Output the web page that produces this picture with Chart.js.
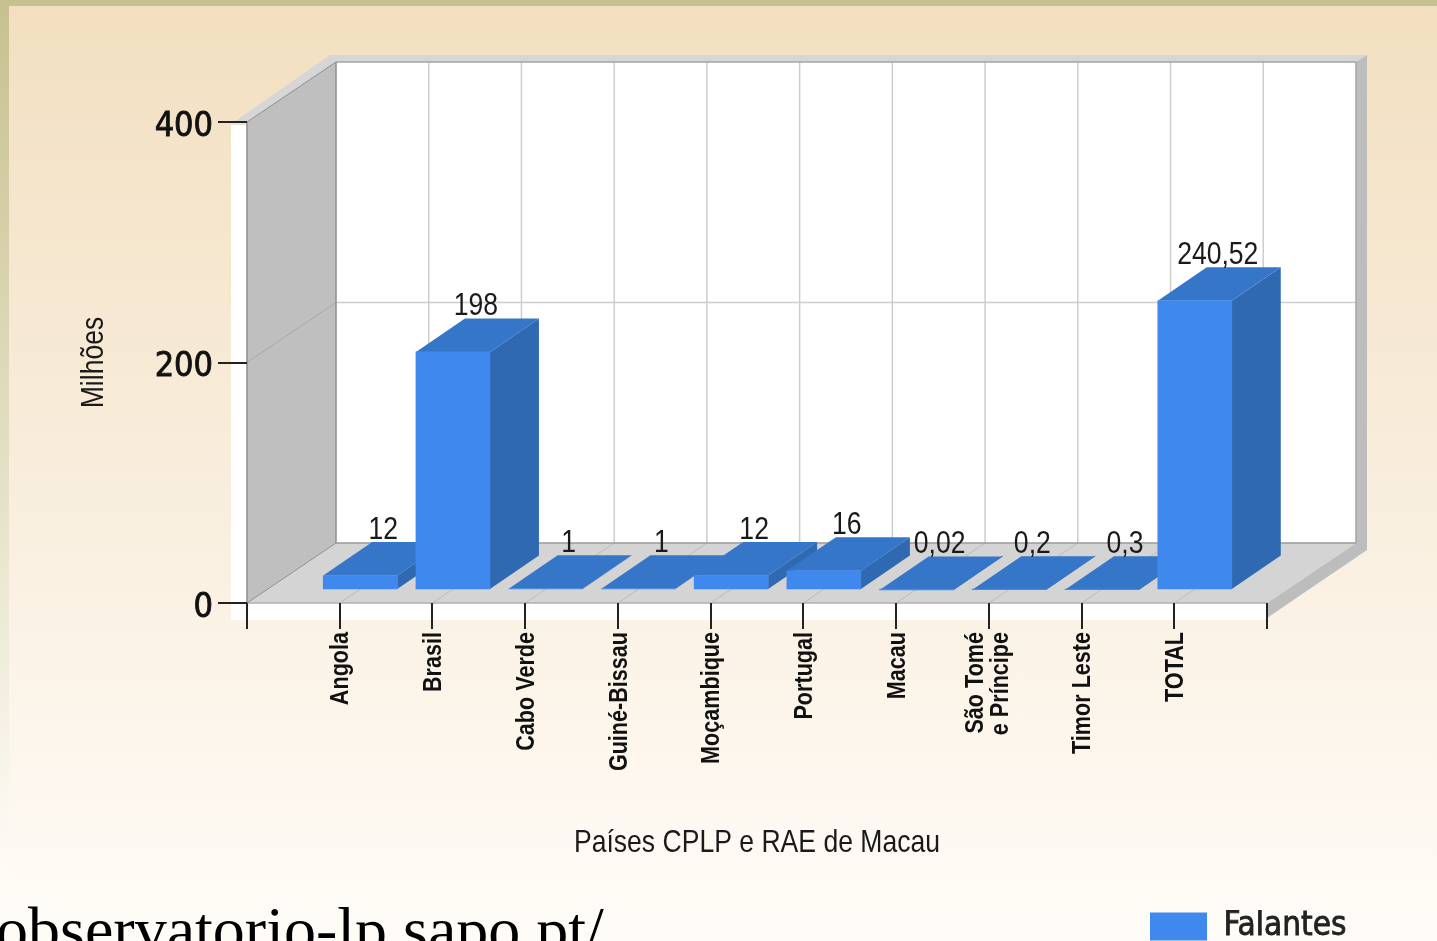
<!DOCTYPE html>
<html lang="pt">
<head>
<meta charset="utf-8">
<title>Falantes</title>
<style>
html,body{margin:0;padding:0;width:1437px;height:941px;overflow:hidden}
#bg{position:absolute;left:0;top:0;width:1437px;height:941px;background:linear-gradient(to bottom,#f2dfc0 6px,#fffcf8 941px)}
#topband{position:absolute;left:0;top:0;width:1437px;height:6px;background:#c7c08f}
#leftband{position:absolute;left:0;top:0;width:9px;height:941px;background:linear-gradient(to bottom,#c7c08f 0,#e6e2c8 500px,#fffcf8 880px)}
#url{position:absolute;left:-4px;top:898px;font:64px/1 "Liberation Serif",serif;color:#000;white-space:nowrap}
canvas{position:absolute;left:0;top:0;display:block}
</style>
<script src="https://cdn.jsdelivr.net/npm/chart.js@4/dist/chart.umd.min.js"></script>
</head>
<body>
<div id="bg"></div><div id="topband"></div><div id="leftband"></div>
<div id="url">observatorio-lp.sapo.pt/</div>
<canvas id="c" width="1437" height="941"></canvas>
<script>
const categories = ['Angola','Brasil','Cabo Verde','Guiné-Bissau','Moçambique','Portugal','Macau',['São Tomé','e Príncipe'],'Timor Leste','TOTAL'];
const falantes = [12,198,1,1,12,16,0.02,0.2,0.3,240.52];
const yTicks = [0,200,400];
const seriesName = 'Falantes';
const yTitle = 'Milhões';
const xTitle = 'Países CPLP e RAE de Macau';

const FLOOR = {dx:89, dy:-60};
const BAR_SHIFT = {dx:20.5, dy:-13};
const BAR_DEPTH = {dx:49, dy:-33.5};
const NARROW = '"Liberation Sans",sans-serif';
const TAHOMA = '"DejaVu Sans Condensed","DejaVu Sans",sans-serif';
const NARROW_FACTOR = 0.83;

const canvas = document.getElementById('c');
const rawCtx = canvas.getContext('2d');
const nativeFill = rawCtx.fillText.bind(rawCtx);
const nativeStroke = rawCtx.strokeText.bind(rawCtx);
// The reference text is condensed; squeeze it along its own baseline.
rawCtx.fillText = function(text,x,y){
  const f = rawCtx.font;
  if(f.includes('Liberation Sans')){
    rawCtx.save();
    rawCtx.translate(x,y);
    rawCtx.scale(NARROW_FACTOR,1);
    nativeFill(text,0,0);
    rawCtx.restore();
  } else if(f.includes('DejaVu')){
    nativeFill(text,x,y);
    rawCtx.save();
    rawCtx.strokeStyle = rawCtx.fillStyle;
    rawCtx.lineWidth = 0.8;
    nativeStroke(text,x,y);
    rawCtx.restore();
  } else {
    nativeFill(text,x,y);
  }
};

function poly(ctx, pts, fill){
  ctx.beginPath();
  pts.forEach((p,i)=> i?ctx.lineTo(p[0],p[1]):ctx.moveTo(p[0],p[1]));
  ctx.closePath();
  ctx.fillStyle = fill; ctx.fill();
}
function line(ctx,x1,y1,x2,y2,color,w){
  ctx.beginPath(); ctx.moveTo(x1,y1); ctx.lineTo(x2,y2);
  ctx.strokeStyle=color; ctx.lineWidth=w; ctx.stroke();
}

const adjusted = new WeakSet();
const scene = {
  id:'scene',
  beforeDraw(chart){
    const lg = chart.legend;
    lg.left=1150; lg.right=1437; lg.top=910; lg.bottom=941;

    const {ctx, scales:{x,y}, chartArea:a} = chart;
    // centre the two-line tick label on its tick, nudge the axis labels
    x.getLabelItems().forEach(it=>{
      if(adjusted.has(it)) return; adjusted.add(it);
      it.options.translation[0]+=1.5;
      if(Array.isArray(it.label)) it.options.translation[0]-=14.5;
    });
    y.getLabelItems().forEach(it=>{
      if(adjusted.has(it)) return; adjusted.add(it);
      it.options.translation[1]+=5;
    });

    const L=a.left,R=a.right,T=y.getPixelForValue(400),B=y.getPixelForValue(0);
    const d=FLOOR;
    ctx.save();
    // white plate behind the front plane
    ctx.fillStyle='#ffffff'; ctx.fillRect(L-16,T+3,R-L+16,B-T+14);
    // outer rim and right edge
    poly(ctx,[[L-13,T],[L+d.dx-6,T+d.dy-7],[R+d.dx+11,T+d.dy-7],[R+d.dx,T+d.dy],[L+d.dx,T+d.dy],[L,T]],'#d6d6d6');
    poly(ctx,[[R+d.dx,T+d.dy],[R+d.dx+11,T+d.dy-7],[R+d.dx+11,B+d.dy+7],[R,B+15],[R,B],[R+d.dx,B+d.dy]],'#bdbdbd');
    // back wall
    poly(ctx,[[L+d.dx,T+d.dy],[R+d.dx,T+d.dy],[R+d.dx,B+d.dy],[L+d.dx,B+d.dy]],'#ffffff');
    // side wall
    poly(ctx,[[L,T],[L+d.dx,T+d.dy],[L+d.dx,B+d.dy],[L,B]],'#bfbfbf');
    // floor
    poly(ctx,[[L,B],[L+d.dx,B+d.dy],[R+d.dx,B+d.dy],[R,B]],'#d4d4d4');
    // grid on back wall and floor, one per category tick
    x.ticks.forEach((t,i)=>{
      if(i===0||i===x.ticks.length-1) return;
      const px=x.getPixelForTick(i);
      line(ctx,px+d.dx,T+d.dy,px+d.dx,B+d.dy,'#cdcdcd',1.5);
      line(ctx,px,B,px+d.dx,B+d.dy,'#bcbcbc',1);
    });
    const mid=y.getPixelForValue(200);
    line(ctx,L+d.dx,mid+d.dy,R+d.dx,mid+d.dy,'#cdcdcd',1.5);
    line(ctx,L,mid,L+d.dx,mid+d.dy,'#a8a8a8',1);
    // frame lines
    line(ctx,L+d.dx,T+d.dy,R+d.dx,T+d.dy,'#a5a5a5',1.5);
    line(ctx,L+d.dx,T+d.dy,L+d.dx,B+d.dy,'#8e8e8e',1.5);
    line(ctx,R+d.dx,T+d.dy,R+d.dx,B+d.dy,'#a5a5a5',1.5);
    line(ctx,L+d.dx,B+d.dy,R+d.dx,B+d.dy,'#9a9a9a',1.5);
    line(ctx,L,B,R,B,'#b0b0b0',1.5);
    line(ctx,L,T,L,B,'#8e8e8e',1.5);
    line(ctx,L,T,L+d.dx,T+d.dy,'#8e8e8e',1);
    line(ctx,L,B,L+d.dx,B+d.dy,'#8e8e8e',1);
    ctx.restore();
  },
  beforeDatasetsDraw(chart){
    const ctx=chart.ctx;
    ctx.save();
    // depth faces of the bars, from the bar elements
    const meta=chart.getDatasetMeta(0);
    meta.data.forEach((el,i)=>{
      if(chart.data.datasets[0].data[i]==null) return;
      const p=el.getProps(['x','y','base','width'],true);
      const x0=p.x-p.width/2+BAR_SHIFT.dx, x1=p.x+p.width/2+BAR_SHIFT.dx;
      const yt=p.y+BAR_SHIFT.dy, yb=p.base+BAR_SHIFT.dy;
      const b=BAR_DEPTH;
      poly(ctx,[[x1,yt],[x1+b.dx,yt+b.dy],[x1+b.dx,yb+b.dy],[x1,yb]],'#2f69b2');
      poly(ctx,[[x0,yt],[x0+b.dx,yt+b.dy],[x1+b.dx,yt+b.dy],[x1,yt]],'#3676c9');
    });
    ctx.restore();
    ctx.save();
    ctx.translate(BAR_SHIFT.dx,BAR_SHIFT.dy);
  },
  afterDatasetsDraw(chart){
    const ctx=chart.ctx;
    ctx.restore();
    const meta=chart.getDatasetMeta(0);
    ctx.save();
    ctx.font='32px '+NARROW;
    ctx.fillStyle='#1a1a1a';
    ctx.textAlign='center';ctx.textBaseline='middle';
    meta.data.forEach((el,i)=>{
      const v=chart.data.datasets[0].data[i];
      if(v==null) return;
      const p=el.getProps(['x','y'],true);
      ctx.fillText(String(v).replace('.',','),
        p.x+BAR_SHIFT.dx+BAR_DEPTH.dx/2-1.5, p.y+BAR_SHIFT.dy+BAR_DEPTH.dy-12);
    });
    ctx.restore();
  }
};

new Chart(canvas,{
  type:'bar',
  data:{
    labels:['',...categories,''],
    datasets:[{
      label:seriesName,
      data:[null,...falantes,null],
      backgroundColor:'#3f89ee',
      borderWidth:0,
      barThickness:74,
      clip:false
    }]
  },
  plugins:[scene],
  options:{
    responsive:false,
    animation:false,
    events:[],
    layout:{padding:{top:122,right:170,left:0,bottom:0}},
    scales:{
      x:{
        type:'category',
        offset:false,
        afterFit(s){s.height=338;},
        border:{display:false},
        grid:{drawOnChartArea:false,drawTicks:true,tickLength:26,tickColor:'#222',lineWidth:2,offset:false},
        ticks:{autoSkip:false,minRotation:90,maxRotation:90,padding:3,color:'#111',
          font:{family:NARROW,size:26,weight:'bold',lineHeight:0.96}},
        title:{display:true,text:xTitle,color:'#1a1a1a',font:{family:NARROW,size:32},padding:{top:0,bottom:79}}
      },
      y:{
        min:0,max:400,
        afterFit(s){s.width=247;},
        afterBuildTicks(s){s.ticks=yTicks.map(v=>({value:v}));},
        border:{display:false},
        grid:{drawOnChartArea:false,drawTicks:true,tickLength:29,tickColor:'#222',lineWidth:2},
        ticks:{padding:5,color:'#111',font:{family:TAHOMA,size:34}},
        title:{display:true,text:yTitle,color:'#1a1a1a',font:{family:NARROW,size:32},padding:{top:75,bottom:0}}
      }
    },
    plugins:{
      tooltip:{enabled:false},
      title:{display:false},
      legend:{
        display:true,position:'chartArea',align:'start',
        labels:{boxWidth:57,boxHeight:28,padding:0,color:'#222',font:{family:TAHOMA,size:33}}
      }
    }
  }
});
</script>
</body>
</html>
